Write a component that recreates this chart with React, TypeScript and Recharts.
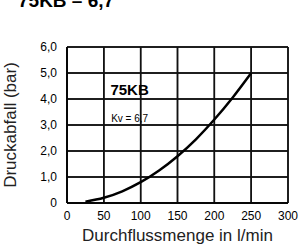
import { LineChart, Line, XAxis, YAxis, CartesianGrid, ReferenceLine, ReferenceDot } from "recharts";

const flow = [25, 50, 75, 100, 125, 150, 175, 200, 225, 250];
const drop = [0.05, 0.2, 0.45, 0.8, 1.25, 1.8, 2.45, 3.21, 4.06, 5.0];
const xTicks = [0, 50, 100, 150, 200, 250, 300];
const yTicks = [0, 1, 2, 3, 4, 5, 6];

const data = flow.map((q, i) => ({ q, p: drop[i] }));

const font = "'Liberation Sans', Arial, sans-serif";

export default function App() {
  return (
    <div style={{ position: "absolute", left: 0, top: 0, width: 299, height: 245, overflow: "hidden", background: "#fff", fontFamily: font }}>
      <div style={{ position: "absolute", left: 18, top: -10, fontSize: 19, fontWeight: "bold", color: "#000", whiteSpace: "nowrap" }}>
        75KB – 6,7
      </div>
      <LineChart width={299} height={245} data={data} margin={{ top: 47, right: 11, bottom: 0, left: 0 }}>
        <CartesianGrid horizontal vertical stroke="#111" strokeWidth={1.5} />
        <XAxis
          xAxisId={0}
          dataKey="q"
          type="number"
          domain={[0, 300]}
          ticks={xTicks}
          tickLine={false}
          axisLine={{ stroke: "#000", strokeWidth: 1.5 }}
          height={42}
          tick={{ fontSize: 12, fill: "#000", fontFamily: font }}
          tickMargin={2}
          label={{ value: "Durchflussmenge in l/min", position: "insideBottom", offset: 4, fontSize: 17, fill: "#222", fontFamily: font }}
        />
        <YAxis
          yAxisId={0}
          type="number"
          domain={[0, 6]}
          ticks={yTicks}
          tickLine={false}
          axisLine={{ stroke: "#000", strokeWidth: 1.5 }}
          width={67}
          tickFormatter={(v: number) => (v === 0 ? "0" : v.toFixed(1).replace(".", ","))}
          tick={{ fontSize: 12, fill: "#000", fontFamily: font }}
          tickMargin={4}
          label={{ value: "Druckabfall (bar)", angle: -90, position: "insideLeft", offset: 10, fontSize: 17, fill: "#222", fontFamily: font, style: { textAnchor: "middle" } }}
        />
        {xTicks.map((t) => (
          <ReferenceLine key={"x" + t} xAxisId={0} yAxisId={0} x={t} stroke="#111" strokeWidth={1.5} ifOverflow="visible" />
        ))}
        {yTicks.map((t) => (
          <ReferenceLine key={"y" + t} xAxisId={0} yAxisId={0} y={t} stroke="#111" strokeWidth={1.5} ifOverflow="visible" />
        ))}
        <ReferenceDot xAxisId={0} yAxisId={0} x={85} y={4.35} r={0} label={{ value: "75KB", fontSize: 15, fontWeight: "bold", fill: "#000", fontFamily: font }} />
        <ReferenceDot xAxisId={0} yAxisId={0} x={85} y={3.27} r={0} label={{ value: "Kv = 6,7", fontSize: 10, fill: "#000", fontFamily: font }} />
        <Line xAxisId={0} yAxisId={0} dataKey="p" type="monotone" stroke="#000" strokeWidth={2.5} dot={false} isAnimationActive={false} />
      </LineChart>
    </div>
  );
}
